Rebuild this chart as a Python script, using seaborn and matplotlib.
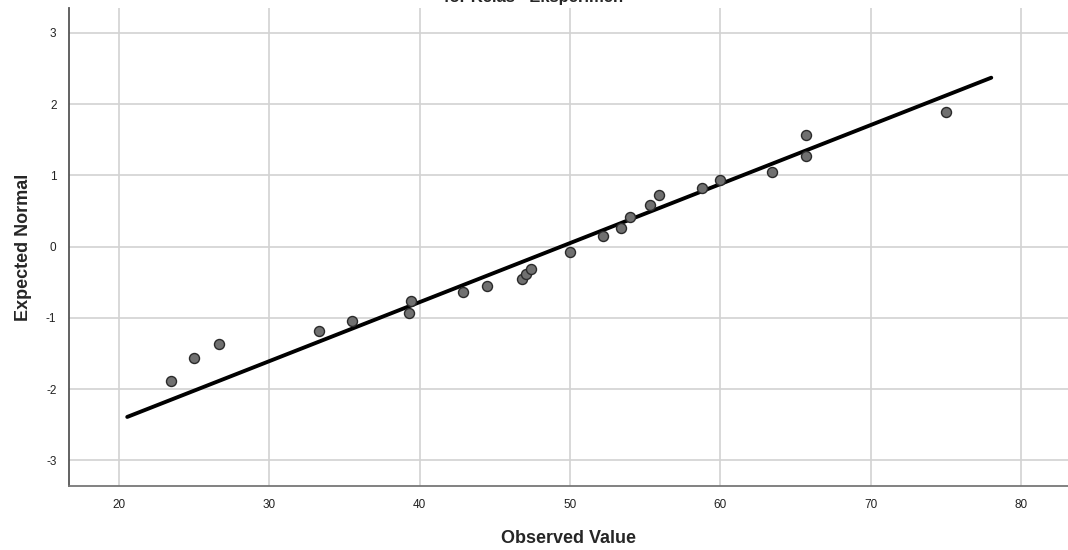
import numpy as np
import pandas as pd
import matplotlib
matplotlib.use("Agg")
import matplotlib.pyplot as plt
import seaborn as sns

# observed scores and their expected normal values
observed = [23.5, 25.0, 26.7, 33.3, 35.5, 39.3, 39.4, 42.9, 44.5, 46.8, 47.1, 47.4,
            50.0, 52.2, 53.4, 54.0, 55.3, 55.9, 58.8, 60.0, 63.4, 65.7, 65.7, 75.0]
expected = [-1.89, -1.57, -1.36, -1.19, -1.05, -0.93, -0.77, -0.63, -0.55, -0.46, -0.38, -0.31,
            -0.08, 0.15, 0.26, 0.42, 0.59, 0.73, 0.82, 0.93, 1.05, 1.27, 1.57, 1.89]

# reference line: y = (x - mean) / sd
line_mean = 49.4
line_sd = 12.06
line_x = [20.57, 78.0]

x_ticks = [20, 30, 40, 50, 60, 70, 80]
y_ticks = [-3, -2, -1, 0, 1, 2, 3]

sns.set_style("white")
plt.rcParams['font.family'] = ['Liberation Sans', 'DejaVu Sans']
plt.rcParams['axes.unicode_minus'] = False

df = pd.DataFrame({'Observed Value': observed, 'Expected Normal': expected})
line_df = pd.DataFrame({'x': line_x})
line_df['y'] = (line_df['x'] - line_mean) / line_sd

fig = plt.figure(figsize=(10.68, 5.5), dpi=100)
ax = fig.add_axes([69 / 1068, 64 / 550, 999 / 1068, 478 / 550])

ax.set_axisbelow(True)
ax.grid(True, color='#d2d2d2', linewidth=1.2)

sns.lineplot(data=line_df, x='x', y='y', color='black', linewidth=2.8, ax=ax)
sns.scatterplot(data=df, x='Observed Value', y='Expected Normal', s=52,
                color='#707070', edgecolor='#2a2a2a', linewidth=1.0, ax=ax, zorder=3)

ax.set_xlim(16.7, 83.1)
ax.set_ylim(-3.36, 3.35)
ax.set_xticks(x_ticks)
ax.set_yticks(y_ticks)
ax.tick_params(length=0, labelsize=8.5, labelcolor='#222222')
ax.tick_params(axis='x', pad=9)
ax.tick_params(axis='y', pad=9)

for side in ['top', 'right']:
    ax.spines[side].set_visible(False)
ax.spines['left'].set_color('#555555')
ax.spines['left'].set_linewidth(1.3)
ax.spines['bottom'].set_color('#777777')
ax.spines['bottom'].set_linewidth(1.3)

ax.set_xlabel('Observed Value', fontsize=13, fontweight='bold', labelpad=14)
ax.set_ylabel('Expected Normal', fontsize=13, fontweight='bold', labelpad=10)

# title is cut off at the top edge in the original
fig.text(0.5, 1 - 2 / 550, 'for Kelas= Eksperimen', ha='center', va='baseline',
         fontsize=12, fontweight='bold')

fig.savefig('out.png', dpi=100)
